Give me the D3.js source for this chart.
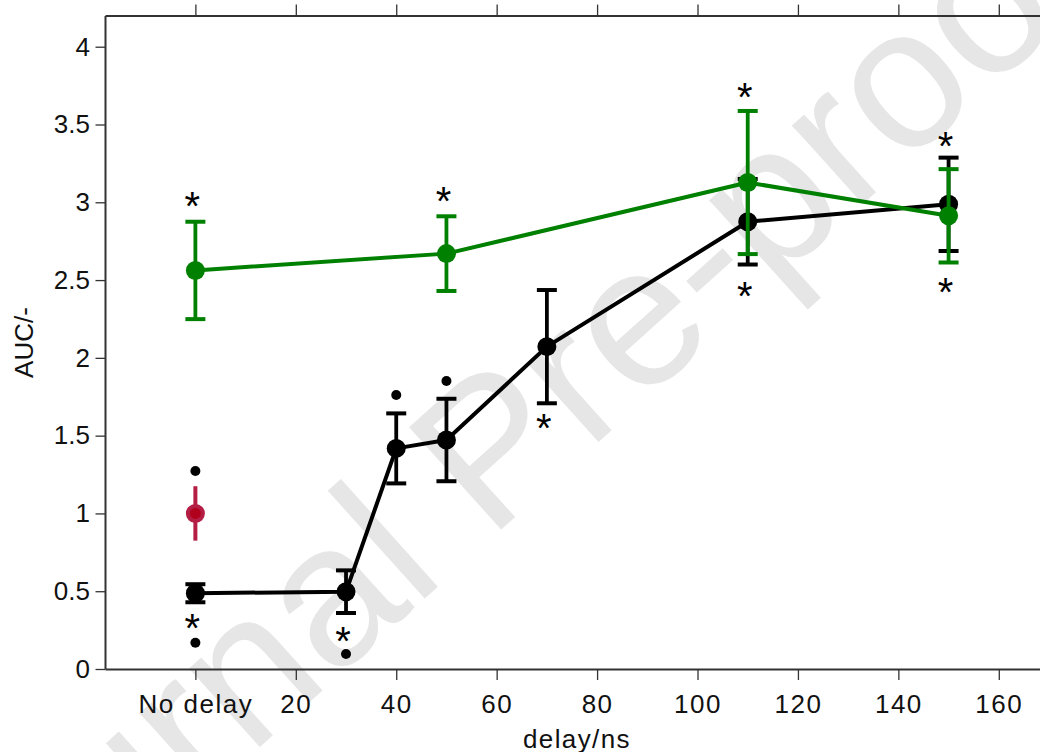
<!DOCTYPE html>
<html><head><meta charset="utf-8">
<script src="https://cdn.jsdelivr.net/npm/d3@7"></script>
<style>
body{margin:0;background:#fff}
svg{display:block}
text{font-family:"Liberation Sans",Arial,sans-serif}
</style>
</head><body>
<svg id="c" width="1040" height="752"></svg>
<script>
// ---- data ----
const blackX   = [0, 30, 40, 50, 70, 110, 150];
const blackY   = [0.487, 0.497, 1.418, 1.472, 2.072, 2.875, 2.987];
const blackErr = [0.058, 0.137, 0.225, 0.265, 0.364, 0.275, 0.30];
const greenX   = [0, 50, 110, 150];
const greenY   = [2.562, 2.67, 3.127, 2.913];
const greenErr = [0.313, 0.24, 0.46, 0.30];
const redX     = [0];
const redY     = [1.0];
const redErr   = [0.175];
const dotX     = [0, 0, 30, 40, 50];
const dotY     = [1.273, 0.169, 0.096, 1.761, 1.851];
const starX    = [0, 50, 110, 150, 110, 150, 0, 30, 70];
const starY    = [3.036, 3.068, 3.732, 3.418, 2.457, 2.481, 0.319, 0.236, 1.607];
const xTickValues = [0, 20, 40, 60, 80, 100, 120, 140, 160];
const xTickLabels = ["No delay", "20", "40", "60", "80", "100", "120", "140", "160"];
const yTickValues = [0, 0.5, 1, 1.5, 2, 2.5, 3, 3.5, 4];
const xTitle = "delay/ns";
const yTitle = "AUC/-";
const watermark = "Journal Pre-proof";

const svg = d3.select("#c");
const x = d3.scaleLinear().domain([-18, 170]).range([105, 1049]);
const y = d3.scaleLinear().domain([0, 4.2]).range([669, 15.6]);

// watermark
svg.append("text")
  .attr("transform", "translate(488,448) rotate(-42)")
  .attr("text-anchor", "middle")
  .attr("dominant-baseline", "central")
  .attr("font-size", 200)
  .attr("fill", "#e6e6e6")
  .text(watermark);

// axes
const axisColor = "#333";
function styleAxis(g) {
  g.select(".domain").attr("stroke", axisColor).attr("stroke-width", 2);
  g.selectAll(".tick line").attr("stroke", axisColor).attr("stroke-width", 1.3);
  g.selectAll(".tick text").attr("fill", "#111").attr("font-size", 26)
    .attr("font-family", "'Liberation Sans',Arial,sans-serif");
}
const gx = svg.append("g").attr("transform", `translate(0,${y(0)})`)
  .call(d3.axisBottom(x).tickValues(xTickValues)
    .tickFormat((d, i) => xTickLabels[i]).tickSize(11).tickSizeOuter(0).tickPadding(14.5));
styleAxis(gx);
gx.selectAll(".tick text").attr("letter-spacing", "1.5px");

const gt = svg.append("g").attr("transform", `translate(0,${y(4.2)})`)
  .call(d3.axisTop(x).tickValues(xTickValues).tickFormat("").tickSize(11).tickSizeOuter(0));
styleAxis(gt);

const gy = svg.append("g").attr("transform", `translate(${x(-18)},0)`)
  .call(d3.axisLeft(y).tickValues(yTickValues).tickFormat(d3.format("~g"))
    .tickSize(9.5).tickSizeOuter(0).tickPadding(5.5));
styleAxis(gy);

// titles
svg.append("text").attr("x", 577).attr("y", 748).attr("text-anchor", "middle")
  .attr("font-size", 26).attr("letter-spacing", "1.4px").attr("fill", "#111").text(xTitle);
svg.append("text").attr("transform", "translate(33,342.5) rotate(-90)")
  .attr("text-anchor", "middle").attr("font-size", 26).attr("fill", "#111").text(yTitle);

// series drawing
function drawSeries(xs, ys, es, color, r) {
  const pts = xs.map((d, i) => ({x: d, y: ys[i], e: es[i]}));
  const g = svg.append("g");
  g.selectAll("line.eb").data(pts).join("line").attr("class", "eb")
    .attr("x1", d => x(d.x)).attr("x2", d => x(d.x))
    .attr("y1", d => y(d.y - d.e)).attr("y2", d => y(d.y + d.e))
    .attr("stroke", color).attr("stroke-width", 3.8);
  ["lo", "hi"].forEach(k => {
    g.selectAll("line.cap" + k).data(pts).join("line").attr("class", "cap" + k)
      .attr("x1", d => x(d.x) - 10).attr("x2", d => x(d.x) + 10)
      .attr("y1", d => y(k === "lo" ? d.y - d.e : d.y + d.e))
      .attr("y2", d => y(k === "lo" ? d.y - d.e : d.y + d.e))
      .attr("stroke", color).attr("stroke-width", 4);
  });
  g.append("path").datum(pts)
    .attr("d", d3.line().x(d => x(d.x)).y(d => y(d.y)))
    .attr("fill", "none").attr("stroke", color).attr("stroke-width", 4)
    .attr("stroke-linejoin", "round");
  g.selectAll("circle").data(pts).join("circle")
    .attr("cx", d => x(d.x)).attr("cy", d => y(d.y)).attr("r", r).attr("fill", color);
}
drawSeries(blackX, blackY, blackErr, "#000", 9.5);

// small dots
svg.append("g").selectAll("circle").data(dotX.map((d, i) => ({x: d, y: dotY[i]}))).join("circle")
  .attr("cx", d => x(d.x)).attr("cy", d => y(d.y)).attr("r", 5).attr("fill", "#000");

// red reference point
const red = redX.map((d, i) => ({x: d, y: redY[i], e: redErr[i]}));
const gr = svg.append("g");
gr.selectAll("line").data(red).join("line")
  .attr("x1", d => x(d.x)).attr("x2", d => x(d.x))
  .attr("y1", d => y(d.y - d.e)).attr("y2", d => y(d.y + d.e))
  .attr("stroke", "#b41e44").attr("stroke-width", 4);
gr.selectAll("circle").data(red).join("circle")
  .attr("cx", d => x(d.x)).attr("cy", d => y(d.y)).attr("r", 7.5)
  .attr("fill", "#b0001c").attr("stroke", "#b41e44").attr("stroke-width", 4);

drawSeries(greenX, greenY, greenErr, "#008000", 9.5);

// significance asterisks
svg.append("g").selectAll("text").data(starX.map((d, i) => ({x: d, y: starY[i]}))).join("text")
  .attr("x", d => x(d.x)).attr("y", d => y(d.y)).attr("dx", -3).attr("dy", "0.575em")
  .attr("text-anchor", "middle").attr("font-size", 40).attr("fill", "#000").text("*");
</script>
</body></html>
